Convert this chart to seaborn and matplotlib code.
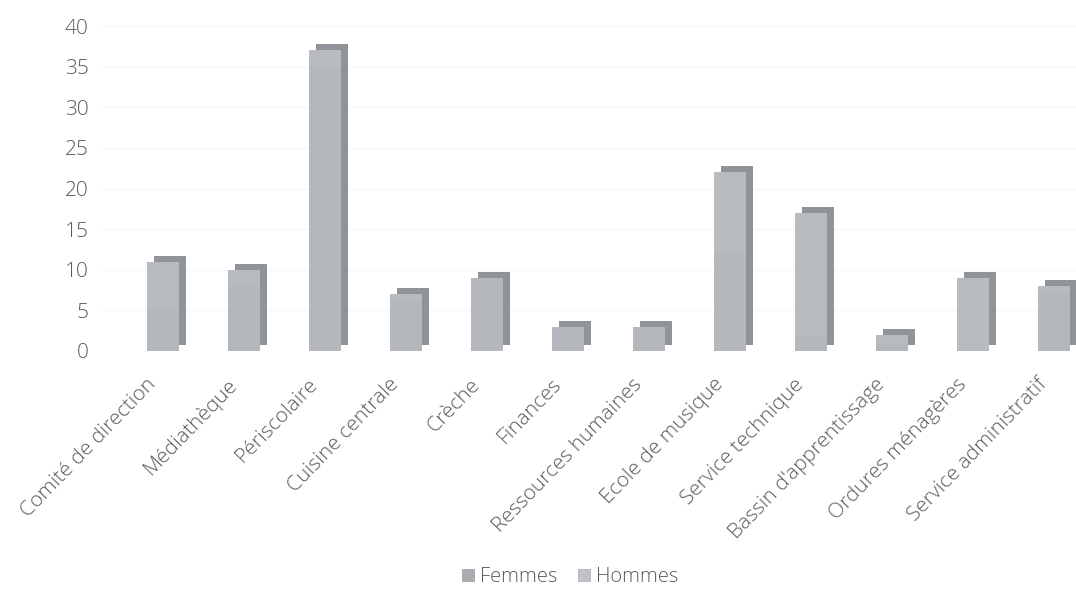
import matplotlib
matplotlib.use("Agg")
import matplotlib.pyplot as plt
import matplotlib.transforms as mtransforms
from matplotlib.patches import Patch
import seaborn as sns
import pandas as pd

categories = ["Comité de direction", "Médiathèque", "Périscolaire", "Cuisine centrale",
              "Crèche", "Finances", "Ressources humaines", "Ecole de musique",
              "Service technique", "Bassin d'apprentissage", "Ordures ménagères",
              "Service administratif"]
femmes = [5, 8, 35, 6, 9, 3, 3, 12, 2, 1, 0, 7]
hommes = [6, 2, 2, 1, 0, 0, 0, 10, 15, 1, 9, 1]
yticks = [0, 5, 10, 15, 20, 25, 30, 35, 40]
series_labels = ["Femmes", "Hommes"]

fem_color = "#b4b7bb"
hom_color = "#b8bbc0"
shadow_color = "#909397"
text_color = "#5a5a5a"

sns.set_theme(style="white")
plt.rcParams['font.family'] = ['Open Sans', 'DejaVu Sans']
plt.rcParams['font.weight'] = 300

fig = plt.figure(figsize=(10.76, 6.04), dpi=100)
W, H = 1076, 604
ax = fig.add_axes([100 / W, 1 - 351 / H, (W - 100) / W, (351 - 26) / H])

totals = [f + h for f, h in zip(femmes, hommes)]
df = pd.DataFrame({"cat": categories, "total": totals, "femmes": femmes})

# depth / shadow faces
sns.barplot(data=df, x="cat", y="total", color=shadow_color, width=0.4,
            saturation=1, ax=ax, linewidth=0)
shadow = mtransforms.offset_copy(ax.transData, fig=fig, x=7, y=6, units="dots")
for p in ax.patches:
    p.set_transform(shadow)
    p.set_clip_on(False)

# Hommes stacked on Femmes: totals behind, Femmes in front
sns.barplot(data=df, x="cat", y="total", color=hom_color, width=0.4,
            saturation=1, ax=ax, linewidth=0)
sns.barplot(data=df, x="cat", y="femmes", color=fem_color, width=0.4,
            saturation=1, ax=ax, linewidth=0)

ax.set_xlim(-0.78, 11.27)
ax.set_ylim(0, 40)
ax.set_yticks(yticks)
ax.set_yticklabels([str(v) for v in yticks])
ax.yaxis.grid(True, color="#f5f5f5", linewidth=0.8)
ax.set_axisbelow(True)
for s in ax.spines.values():
    s.set_visible(False)
ax.set_xlabel("")
ax.set_ylabel("")
ax.tick_params(axis="y", length=0, pad=8, labelsize=15, labelcolor=text_color)
ax.tick_params(axis="x", length=0, pad=22, labelsize=15, labelcolor=text_color)
ax.set_xticks(range(len(categories)))
ax.set_xticklabels(categories, rotation=46, ha="right", va="center",
                   rotation_mode="anchor")
offset = mtransforms.ScaledTranslation(-0.10, 0, fig.dpi_scale_trans)
for lab in ax.get_xticklabels():
    lab.set_transform(lab.get_transform() + offset)

handles = [Patch(facecolor="#a9acb0", edgecolor="#999999", linewidth=0.5),
           Patch(facecolor="#bfc3c9", edgecolor="#aaaaaa", linewidth=0.5)]
fig.legend(handles, series_labels, loc="center", bbox_to_anchor=(570 / W, 1 - 577 / H),
           ncol=2, frameon=False, fontsize=14.5, labelcolor=text_color,
           handlelength=0.6, handleheight=0.6, handletextpad=0.3, columnspacing=1.0)

fig.savefig("out.png", dpi=100)
